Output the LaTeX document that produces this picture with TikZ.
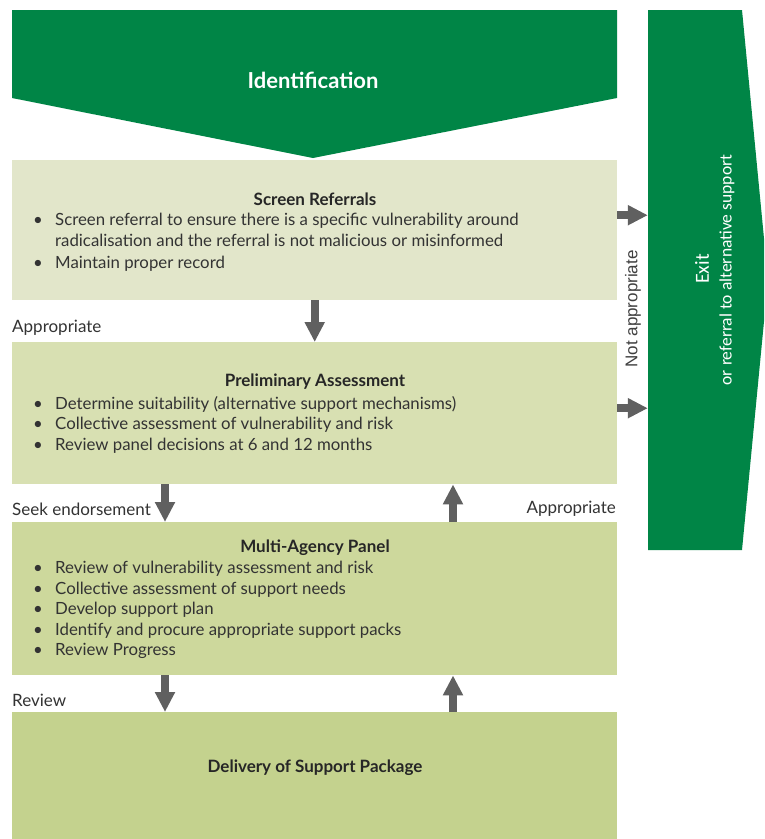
\documentclass[tikz,border=0pt]{standalone}
\usepackage{fontspec}
\setmainfont{Lato}
\newfontfamily\arialf{Liberation Sans}
\newfontfamily\exitf{Carlito}
\usetikzlibrary{arrows.meta}
\definecolor{dgreen}{RGB}{0,133,70}
\definecolor{boxa}{RGB}{226,230,202}
\definecolor{boxb}{RGB}{216,224,178}
\definecolor{boxc}{RGB}{205,216,156}
\definecolor{boxd}{RGB}{196,210,142}
\definecolor{agray}{RGB}{96,96,96}
\newcommand\bl{\makebox[22pt][l]{•}}
\newcommand\hang{\hspace*{22pt}}
\tikzset{
  panel/.style={inner sep=0pt, anchor=north west, minimum width=605pt},
  ttl/.style={font=\fontsize{17}{20}\selectfont\bfseries, text=black!85},
  lst/.style={font=\fontsize{16.8}{20.5}\selectfont, align=left, anchor=north west, inner sep=0pt, text=black!80},
  lbl/.style={font=\fontsize{17}{20}\selectfont, inner sep=0pt, text=black!80},
  blk/.style={draw=agray, line width=8pt, -{Triangle[length=20pt,width=19pt]}},
}
\begin{document}
\begin{tikzpicture}[x=1pt,y=-1pt]
\useasboundingbox (0,0) rectangle (764,839);
\fill[white] (0,0) rectangle (764,839);
% identification
\fill[dgreen] (12,10) -- (617,10) -- (617,98) -- (313,158) -- (12,98) -- cycle;
\node[font=\fontsize{22}{26}\selectfont\bfseries, text=white] (ident) at (313,80) {Identification};
% exit
\begin{scope}
\clip (0,0) rectangle (764,839);
\fill[dgreen] (648,10) -- (742,10) -- (768,280) -- (742,550) -- (648,550) -- cycle;
\end{scope}
\node[inner sep=0pt, minimum width=94pt, minimum height=540pt] (exit) at (695,280) {};
\node[rotate=90, font=\exitf\fontsize{20}{24}\selectfont, text=white] (exitt) at (702,269) {Exit};
\node[rotate=90, font=\exitf\fontsize{17.5}{20}\selectfont, text=white] (exits) at (727,270) {or referral to alternative support};
% panels
\node[panel, fill=boxa, minimum height=140pt] (b1) at (12,160) {};
\node[panel, fill=boxb, minimum height=142pt] (b2) at (12,342) {};
\node[panel, fill=boxc, minimum height=153pt] (b3) at (12,522) {};
\node[panel, fill=boxd, minimum height=127pt] (b4) at (12,712) {};
% texts
\node[ttl] (t1) at (315,199) {Screen Referrals};
\node[lst] (l1) at (33,213) {\bl Screen referral to ensure there is a specific vulnerability around\\
\hang radicalisation and the referral is not malicious or misinformed\\[2pt]
\bl Maintain proper record};
\node[ttl] (t2) at (315,382) {Preliminary Assessment};
\node[lst] (l2) at (33,396) {\bl Determine suitability (alternative support mechanisms)\\
\bl Collective assessment of vulnerability and risk\\
\bl Review panel decisions at 6 and 12 months};
\node[ttl] (t3) at (315,548) {Multi-Agency Panel};
\node[lst] (l3) at (33,561) {\bl Review of vulnerability assessment and risk\\
\bl Collective assessment of support needs\\
\bl Develop support plan\\
\bl Identify and procure appropriate support packs\\
\bl Review Progress};
\node[ttl] (t4) at (315,768) {Delivery of Support Package};
% labels
\node[lbl, anchor=west] (la1) at (12,328) {Appropriate};
\node[lbl, anchor=west] (la2) at (12,509) {Seek endorsement};
\node[lbl, anchor=east] (la3) at (616,509) {Appropriate};
\node[lbl, anchor=west] (la4) at (12,700) {Review};
\node[rotate=90, font=\arialf\fontsize{17}{20}\selectfont, text=black!75] (na) at (633,309) {Not appropriate};
% arrows
\coordinate (L) at (165,0);
\coordinate (R) at (453,0);
\draw[blk] (b1.south) -- (b2.north);
\draw[blk] (b2.south -| L) -- (b3.north -| L);
\draw[blk] (b3.south -| L) -- (b4.north -| L);
\draw[blk] (b3.north -| R) -- (b2.south -| R);
\draw[blk] (b4.north -| R) -- (b3.south -| R);
\draw[blk] ([yshift=15pt]b1.east) -- ([yshift=15pt]b1.east -| exit.west);
\draw[blk] ([yshift=5pt]b2.east) -- ([yshift=5pt]b2.east -| exit.west);
\end{tikzpicture}
\end{document}
